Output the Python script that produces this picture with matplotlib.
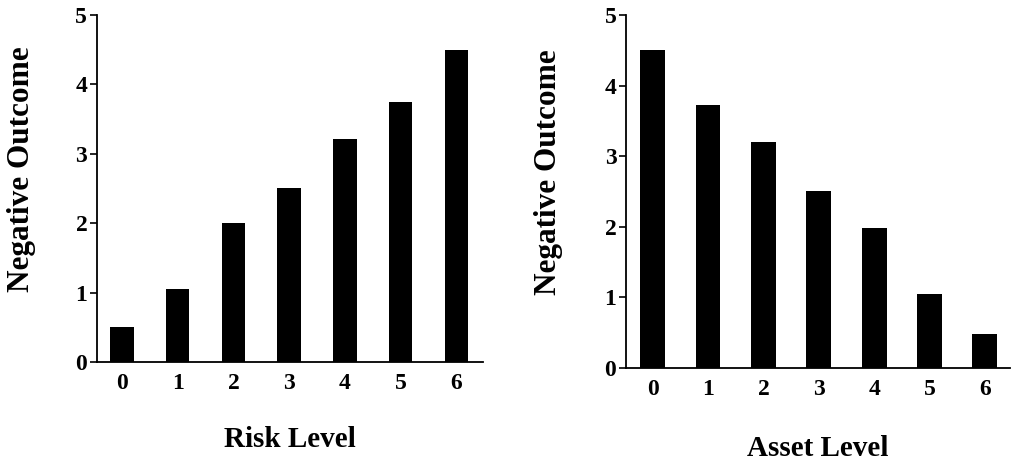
import matplotlib.pyplot as plt

levels = [0, 1, 2, 3, 4, 5, 6]
risk_outcome = [0.5, 1.05, 2.0, 2.5, 3.22, 3.75, 4.5]
asset_outcome = [4.5, 3.72, 3.2, 2.5, 1.98, 1.05, 0.48]

plt.rcParams['font.family'] = ['Liberation Serif', 'DejaVu Serif']
plt.rcParams['font.weight'] = 'bold'

fig = plt.figure(figsize=(10.18, 4.62), dpi=100)

# left panel: risk
ax1 = fig.add_axes([0.0953, 0.2165, 0.3792, 0.751])
# right panel: asset
ax2 = fig.add_axes([0.615, 0.2035, 0.377, 0.764])

panels = [
    (ax1, risk_outcome, "Risk Level", 0.42, (-0.45, 6.48), -0.185, -0.158),
    (ax2, asset_outcome, "Asset Level", 0.45, (-0.48, 6.45), -0.19, -0.165),
]

for ax, vals, xlabel, width, xlim, xl_y, yl_x in panels:
    ax.bar(levels, vals, width=width, color="black")
    ax.set_xlim(*xlim)
    ax.set_ylim(0, 5)
    ax.set_yticks([0, 1, 2, 3, 4, 5])
    ax.set_xticks(levels)
    for side in ("top", "right"):
        ax.spines[side].set_visible(False)
    for side in ("left", "bottom"):
        ax.spines[side].set_linewidth(1.3)
    ax.tick_params(axis="y", direction="out", length=5, width=1.2, labelsize=17, pad=2)
    ax.tick_params(axis="x", length=0, labelsize=17, pad=8)
    ax.set_xlabel(xlabel, fontsize=21, fontweight="bold")
    ax.set_ylabel("Negative Outcome", fontsize=22.5, fontweight="bold")
    ax.xaxis.set_label_coords(0.5, xl_y)
    ax.yaxis.set_label_coords(yl_x, 0.556)

fig.savefig("out.png", dpi=100)
